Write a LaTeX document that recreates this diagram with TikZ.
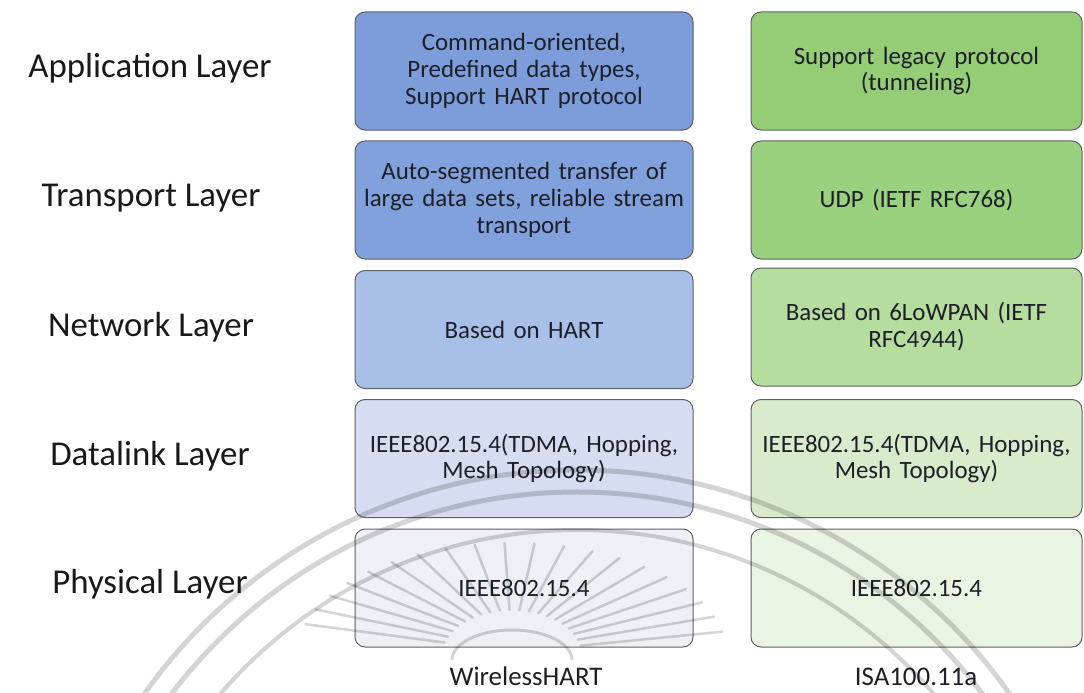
\documentclass[tikz,border=0pt]{standalone}
\usepackage{fontspec}
\setmainfont{Carlito}
\usetikzlibrary{calc}
\definecolor{boxline}{RGB}{95,95,100}
\definecolor{txt}{RGB}{30,30,40}
\definecolor{blueA}{RGB}{124,157,218}
\definecolor{blueB}{RGB}{128,161,220}
\definecolor{blueC}{RGB}{168,192,232}
\definecolor{blueD}{RGB}{214,220,242}
\definecolor{blueE}{RGB}{238,240,246}
\definecolor{greenA}{RGB}{148,205,118}
\definecolor{greenB}{RGB}{154,209,127}
\definecolor{greenC}{RGB}{181,221,158}
\definecolor{greenD}{RGB}{216,236,204}
\definecolor{greenE}{RGB}{234,244,226}
\begin{document}
\begin{tikzpicture}[x=1bp,y=-1bp,
  layerbox/.style={draw=boxline, line width=1bp, rounded corners=10bp,
    minimum height=118bp, inner sep=0pt, align=center, text=txt,
    font=\fontsize{25}{27}\selectfont},
  leftbox/.style={layerbox, minimum width=338bp, text width=334bp},
  rightbox/.style={layerbox, minimum width=331bp, text width=327bp},
  layername/.style={anchor=base, text=black!90, font=\fontsize{35}{38}\selectfont},
  stackname/.style={anchor=base, text=txt, font=\fontsize{27}{30}\selectfont},
  wmark/.style={draw=black, opacity=0.17}]
\useasboundingbox (0,0) rectangle (1084,693);

% layer names
\node[layername] (lapp)  at (150,78)  {Application Layer};
\node[layername] (ltrn)  at (151,207) {Transport Layer};
\node[layername] (lnet)  at (151,336) {Network Layer};
\node[layername] (ldl)   at (150,465) {Datalink Layer};
\node[layername] (lphy)  at (150,593) {Physical Layer};

% WirelessHART stack
\node[leftbox, fill=blueA] (w1) at (524,71)    {Command-oriented,\\Predefined data types,\\Support HART protocol};
\node[leftbox, fill=blueB] (w2) at (524,200)   {Auto-segmented transfer of\\large data sets, reliable stream\\transport};
\node[leftbox, fill=blueC] (w3) at (524,329.5) {Based on HART};
\node[leftbox, fill=blueD] (w4) at (524,458.5) {IEEE802.15.4(TDMA, Hopping,\\Mesh Topology)};
\node[leftbox, fill=blueE] (w5) at (524,588)   {IEEE802.15.4};

% ISA100.11a stack
\node[rightbox, fill=greenA] (i1) at (916.5,71)    {Support legacy protocol\\(tunneling)};
\node[rightbox, fill=greenB] (i2) at (916.5,200)   {UDP (IETF RFC768)};
\node[rightbox, fill=greenC] (i3) at (916.5,327)   {Based on 6LoWPAN (IETF\\RFC4944)};
\node[rightbox, fill=greenD] (i4) at (916.5,458.5) {IEEE802.15.4(TDMA, Hopping,\\Mesh Topology)};
\node[rightbox, fill=greenE] (i5) at (916.5,588)   {IEEE802.15.4};

% stack names
\node[stackname] (nw) at (526,685) {WirelessHART};
\node[stackname] (ni) at (916,685) {ISA100.11a};

% faint seal in the background
\begin{scope}
  \clip (0,0) rectangle (1084,693);
  \draw[wmark, line width=5bp] (577,1000) circle [radius=530bp];
  \draw[wmark, line width=5bp] (577,1000) circle [radius=508bp];
  \draw[wmark, line width=4bp] (577,1000) circle [radius=470bp];
  \foreach \a in {12,20,...,168} {
    \draw[wmark, line width=2.5bp, line cap=round]
      ($(512,655)+({70*cos(\a)},{-45*sin(\a)})$) --
      ($(512,655)+({215*cos(\a)},{-112*sin(\a)})$);
  }
  \draw[wmark, line width=3bp] (452,660) arc[start angle=180, end angle=0, x radius=60bp, y radius=30bp];
\end{scope}
\end{tikzpicture}
\end{document}
